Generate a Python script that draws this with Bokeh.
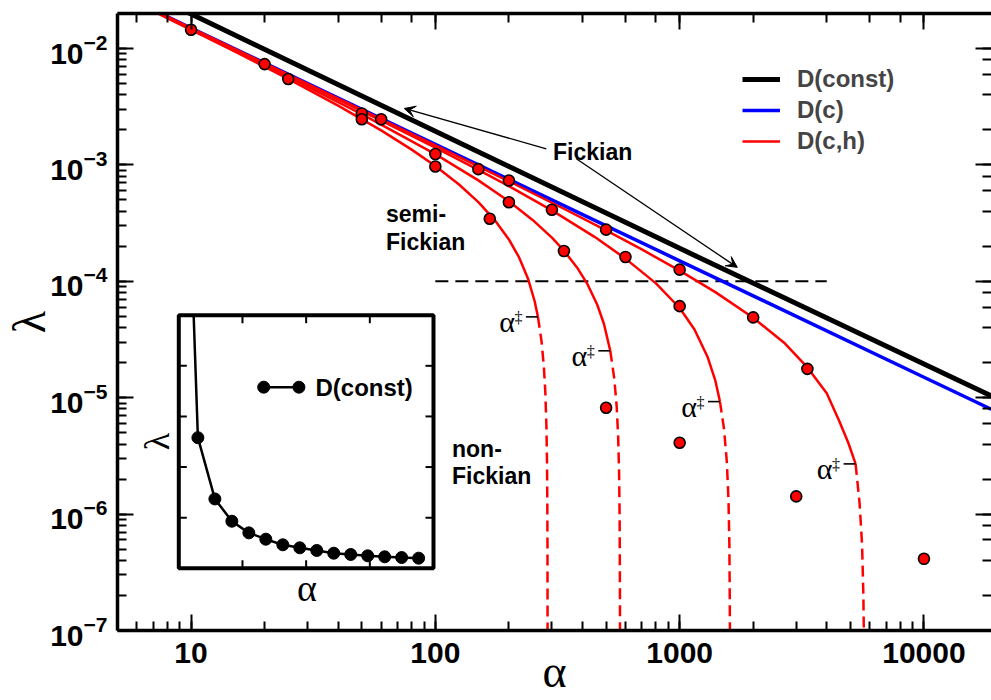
from math import pi
from bokeh.plotting import figure
from bokeh.models import (LogAxis, LinearScale, Range1d, LogTickFormatter, Legend,
                          LegendItem, Arrow, VeeHead)
from bokeh.embed import file_html
from bokeh.resources import INLINE
from bokeh.core.properties import value

# ---------------- data ----------------
const_alpha = [5, 10, 100, 1000, 10000, 19000]
const_lambda = [0.0400, 0.0198, 0.00195, 0.000192, 0.0000195, 0.0000103]

c_alpha = [7.4, 10, 100, 1000, 10000, 19000]
c_lambda = [0.0203, 0.0150, 0.00150, 0.000150, 0.0000150, 0.0000079]

# D(c,h): solid parts
ch_alpha = [
    [7.4, 10, 15, 25, 40, 60, 80, 100, 125, 150, 175, 200, 220, 240, 255, 263],
    [7.4, 10, 20, 50, 100, 150, 200, 250, 300, 336, 380, 420, 460, 490, 520],
    [7.4, 10, 20, 30, 60, 100, 150, 200, 300, 450, 600, 800, 1000, 1150, 1300, 1400, 1462],
    [7.4, 10, 20, 50, 100, 200, 350, 500, 700, 1000, 1400, 2000, 2700, 3333, 4000, 4500, 4900, 5250],
]
ch_lambda = [
    [0.01975, 0.01448, 0.00948, 0.00548, 0.00323, 0.00198, 0.001354, 0.000979, 0.000679,
     0.000479, 0.000336, 0.000229, 0.000161, 0.000104, 0.0000674, 0.0000495],
    [0.02001, 0.01474, 0.00724, 0.002737, 0.001237, 0.000737, 0.000487, 0.000337, 0.000237,
     0.0001833, 0.0001316, 0.0000940, 0.0000629, 0.0000430, 0.0000253],
    [0.02018, 0.01491, 0.00741, 0.00491, 0.002407, 0.001407, 0.000907, 0.000657, 0.000407,
     0.000240, 0.0001567, 0.0000960, 0.0000590, 0.0000385, 0.0000225, 0.0000140, 0.00000926],
    [0.02025, 0.01497, 0.00747, 0.002974, 0.001474, 0.000724, 0.000402, 0.0002736, 0.0001879,
     0.0001236, 0.0000808, 0.0000486, 0.0000292, 0.0000182, 0.0000109, 0.0000063, 0.0000041, 0.0000027],
]
# D(c,h): dashed continuations below alpha-double-dagger
chd_alpha = [
    [263, 272, 278, 282, 285, 286.5, 287.3, 287.7, 287.9, 288.1],
    [520, 540, 552, 560, 565, 568, 569.5, 570.2],
    [1462, 1520, 1560, 1585, 1598, 1604, 1608],
    [5250, 5450, 5580, 5650, 5695],
]
chd_lambda = [
    [0.0000495, 0.0000306, 0.0000187, 0.0000111, 0.0000055, 0.00000273, 0.00000127, 0.00000054,
     0.00000018, 0.00000005],
    [0.0000253, 0.0000146, 0.00000858, 0.0000047, 0.00000233, 0.00000093, 0.00000023, 0.00000005],
    [0.00000926, 0.00000534, 0.00000281, 0.0000013, 0.00000053, 0.000000175, 0.00000005],
    [0.0000027, 0.00000125, 0.00000055, 0.0000002, 0.00000005],
]

# simulation points
pt_alpha = [10, 20, 25, 50, 50, 60, 100, 100, 150, 167, 200, 200, 300, 336, 500, 600,
            1000, 1000, 2000, 3333, 500, 1000, 3000, 10000]
pt_lambda = [0.0145, 0.00735, 0.00547, 0.00277, 0.00247, 0.00247, 0.00124, 0.00097,
             0.00092, 0.000345, 0.000735, 0.000478, 0.000412, 0.000182, 0.000278, 0.000162,
             0.000126, 0.0000612, 0.000049, 0.0000177, 0.0000082, 0.0000041, 0.00000142,
             0.000000413]

# alpha-double-dagger markers (ends of the solid curves)
dd_alpha = [263, 520, 1462, 5250]
dd_lambda = [0.0000495, 0.0000253, 0.00000926, 0.0000027]

# horizontal reference line
href_alpha = [100, 4000]
href_lambda = [1e-4, 1e-4]

# inset: D(const) lambda vs alpha (arbitrary linear units)
inset_alpha = [3.5, 4.5, 8.5, 12.5, 16.5, 20.5, 24.5, 28.5, 32.5, 36.5, 40.5, 44.5, 48.5, 52.5, 56.5]
inset_lambda = [5.0, 2.58, 1.37, 0.93, 0.70, 0.575, 0.464, 0.405, 0.352, 0.298, 0.273, 0.247,
                0.227, 0.213, 0.200]
inset_xticks = [15, 30, 45]
inset_yticks = [1, 2, 3, 4]

# ---------------- figure ----------------
FL, FR, FT, FB = 117, 991, 13, 630           # frame edges (px)
p = figure(width=991, height=700, x_axis_type="log", y_axis_type="log",
           x_range=Range1d(5, 18900), y_range=Range1d(1e-7, 2e-2),
           output_backend="svg", toolbar_location=None,
           min_border_left=FL, min_border_right=991 - FR, min_border_top=FT,
           min_border_bottom=700 - FB)
p.grid.visible = False
p.outline_line_color = None
p.background_fill_color = "white"
p.border_fill_color = "white"

SANS = "Liberation Sans"
SERIF = "Liberation Serif"


def style_axis(ax, labels):
    ax.axis_line_width = 3.5
    ax.axis_line_color = "black"
    ax.major_tick_in = 16
    ax.major_tick_out = 0
    ax.minor_tick_in = 9
    ax.minor_tick_out = 0
    ax.major_tick_line_width = 2
    ax.minor_tick_line_width = 2
    ax.major_tick_line_color = "black"
    ax.minor_tick_line_color = "black"
    if labels:
        ax.major_label_text_font = SANS
        ax.major_label_text_font_style = "bold"
        ax.major_label_text_font_size = "30px"
        ax.major_label_text_color = "black"
        ax.axis_label_text_font = SERIF
        ax.axis_label_text_font_style = "normal"
        ax.axis_label_text_font_size = "46px"
        ax.axis_label_text_color = "black"
    else:
        ax.major_label_text_font_size = "1px"
        ax.major_label_text_alpha = 0
        ax.major_label_standoff = 0


xb = p.xaxis[0]
style_axis(xb, True)
xb.formatter = LogTickFormatter(min_exponent=5)
xb.major_label_standoff = 12
xb.axis_label = "α"
xb.axis_label_standoff = -20
yl = p.yaxis[0]
style_axis(yl, True)
yl.major_label_standoff = 10
yl.axis_label = "λ"
yl.axis_label_standoff = -8

xt = LogAxis()
style_axis(xt, False)
p.add_layout(xt, "above")
yr = LogAxis()
style_axis(yr, False)
yr.axis_line_color = None
p.add_layout(yr, "right")

# reference dashed line
p.line(href_alpha, href_lambda, line_color="black", line_width=2, line_dash="13 7")

# curves
r_const = p.line(const_alpha, const_lambda, line_color="black", line_width=5)
r_c = p.line(c_alpha, c_lambda, line_color="#0000ff", line_width=3.5)
r_ch = None
for a, l in zip(ch_alpha, ch_lambda):
    r = p.line(a, l, line_color="#ff0000", line_width=2.5)
    if r_ch is None:
        r_ch = r
for a, l in zip(chd_alpha, chd_lambda):
    p.line(a, l, line_color="#ff0000", line_width=2.5, line_dash="11 6")

p.scatter(pt_alpha, pt_lambda, size=11, fill_color="#ff0000", line_color="black",
          line_width=1.6)

# alpha-double-dagger labels
p.ray(x=dd_alpha, y=dd_lambda, length=12, angle=pi, length_units="screen",
      line_color="black", line_width=1.6)
p.text(x=dd_alpha, y=dd_lambda, text=["α"] * len(dd_alpha), x_offset=-23, y_offset=5,
       text_align="right", text_baseline="alphabetic", text_font=value(SERIF),
       text_font_size="30px", text_color="black")
p.text(x=dd_alpha, y=dd_lambda, text=["‡"] * len(dd_alpha), x_offset=-19.5, y_offset=1,
       text_align="center", text_baseline="alphabetic", text_font=value(SERIF),
       text_font_size="16px", text_color="black")

# region labels
def txt(x, y, s):
    p.text(x=[x], y=[y], text=[s], text_align="left", text_baseline="alphabetic",
           text_font=value(SANS), text_font_style="bold", text_font_size="23px",
           text_color="black")

txt(303, 0.00128, "Fickian")
txt(62.8, 0.000379, "semi-")
txt(62.8, 0.0002163, "Fickian")
txt(117, 0.00000359, "non-")
txt(117, 0.00000211, "Fickian")

# arrows
for xs, ys, xe, ye in [(284.6, 0.001377, 74.6, 0.003055), (377.6, 0.00113, 1722, 0.0001318)]:
    p.add_layout(Arrow(x_start=xs, y_start=ys, x_end=xe, y_end=ye, line_color="black",
                       line_width=1.3,
                       end=VeeHead(size=11, fill_color="black", line_color="black",
                                   line_width=1)))

# legend
legend = Legend(items=[LegendItem(label="D(const)", renderers=[r_const]),
                       LegendItem(label="D(c)", renderers=[r_c]),
                       LegendItem(label="D(c,h)", renderers=[r_ch])],
                location=(625, 475))
legend.border_line_color = None
legend.background_fill_alpha = 0
legend.label_text_font = SANS
legend.label_text_font_style = "bold"
legend.label_text_font_size = "24px"
legend.glyph_width = 38
legend.glyph_height = 28
legend.label_height = 28
legend.spacing = 3
legend.padding = 0
legend.margin = 0
legend.label_standoff = 17
p.add_layout(legend)

# ---------------- inset ----------------
IL, IR, IT, IB = 178.3, 433.0, 314.7, 567.8   # inset box (px)
ix0, ix1, iy0, iy1 = 0.0, 60.0, 0.0, 5.0
sx = (ix1 - ix0) / (IR - IL)
sy = (iy1 - iy0) / (IB - IT)
p.extra_x_ranges = {"ins": Range1d(ix0 - (IL - FL) * sx, ix1 + (FR - IR) * sx)}
p.extra_y_ranges = {"ins": Range1d(iy0 - (FB - IB) * sy, iy1 + (IT - FT) * sy)}
p.extra_x_scales = {"ins": LinearScale()}
p.extra_y_scales = {"ins": LinearScale()}
K = dict(x_range_name="ins", y_range_name="ins")

p.quad(left=[ix0], right=[ix1], bottom=[iy0], top=[iy1], fill_color="white",
       line_color="black", line_width=4, **K)
n = len(inset_xticks)
m = len(inset_yticks)
p.ray(x=inset_xticks, y=[iy0] * n, length=8, angle=pi / 2, length_units="screen",
      line_color="black", line_width=2, **K)
p.ray(x=inset_xticks, y=[iy1] * n, length=8, angle=-pi / 2, length_units="screen",
      line_color="black", line_width=2, **K)
p.ray(x=[ix0] * m, y=inset_yticks, length=8, angle=0, length_units="screen",
      line_color="black", line_width=2, **K)
p.ray(x=[ix1] * m, y=inset_yticks, length=8, angle=pi, length_units="screen",
      line_color="black", line_width=2, **K)

p.line(inset_alpha, inset_lambda, line_color="black", line_width=2.5, **K)
p.scatter(inset_alpha[1:], inset_lambda[1:], size=12, fill_color="black", line_color="black",
          **K)

# inset legend
p.line([20.0, 28.3], [3.578, 3.578], line_color="black", line_width=2.5, **K)
p.scatter([20.0, 28.3], [3.578, 3.578], size=12, fill_color="black", line_color="black", **K)
p.text(x=[32.2], y=[3.578], text=["D(const)"], text_align="left", text_baseline="middle",
       text_font=value(SANS), text_font_style="bold", text_font_size="24px",
       text_color="black", **K)

# inset axis titles
p.text(x=[30.2], y=[-0.39], text=["α"], text_align="center", text_baseline="middle",
       text_font=value(SERIF), text_font_size="38px", text_color="black", **K)
p.text(x=[-5.09], y=[2.505], text=["λ"], angle=pi / 2, text_align="center",
       text_baseline="middle", text_font=value(SERIF), text_font_size="36px",
       text_color="black", **K)

open("out.html", "w").write(file_html(p, INLINE))
